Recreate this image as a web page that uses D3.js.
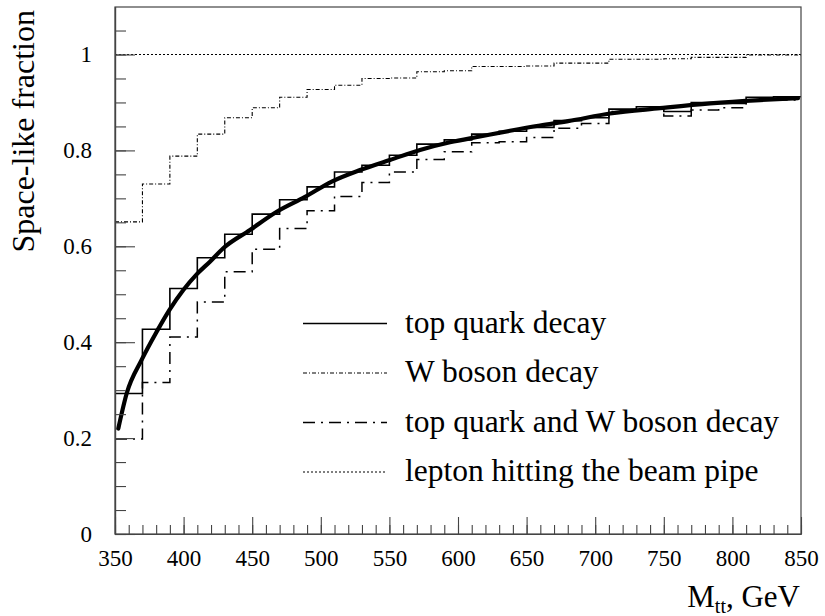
<!DOCTYPE html>
<html>
<head>
<meta charset="utf-8">
<title>Space-like fraction vs M_tt</title>
<script src="https://cdn.jsdelivr.net/npm/d3@7"></script>
<style>
  body { margin: 0; background: #fff; }
  text { font-family: "Liberation Serif", "DejaVu Serif", "Times New Roman", serif; fill: #000; }
</style>
</head>
<body>
<svg id="chart" width="825" height="616"></svg>
<script>
// low edge of each 20 GeV bin
const binLow = [350, 370, 390, 410, 430, 450, 470, 490, 510, 530, 550, 570, 590,
                610, 630, 650, 670, 690, 710, 730, 750, 770, 790, 810, 830];
const binHigh = 850;

// space-like fraction per bin
const topQuark = [0.293, 0.427, 0.512, 0.576, 0.625, 0.667, 0.697, 0.724, 0.755, 0.769, 0.790, 0.813, 0.822,
                  0.834, 0.840, 0.848, 0.862, 0.868, 0.886, 0.891, 0.881, 0.900, 0.898, 0.911, 0.912];
const wBoson   = [0.651, 0.730, 0.788, 0.834, 0.868, 0.889, 0.911, 0.927, 0.936, 0.950, 0.951, 0.964, 0.966,
                  0.975, 0.975, 0.976, 0.982, 0.982, 0.990, 0.990, 0.991, 0.994, 0.994, 0.999, 0.999];
const topAndW  = [0.198, 0.316, 0.411, 0.484, 0.547, 0.594, 0.637, 0.674, 0.704, 0.733, 0.755, 0.781, 0.797,
                  0.816, 0.818, 0.827, 0.846, 0.856, 0.881, 0.887, 0.872, 0.884, 0.889, 0.905, 0.905];
const beamPipe = [1, 1, 1, 1, 1, 1, 1, 1, 1, 1, 1, 1, 1,
                  1, 1, 1, 1, 1, 1, 1, 1, 1, 1, 1, 1];

// smooth fit drawn over the top quark histogram
const fitM = [352.4, 358.5, 369.4, 380.4, 389.6, 399.8, 409.5, 419.2, 428.9, 448.4, 467.9, 488.5, 508,
              528.6, 550.4, 572.3, 594.2, 616, 637.9, 659.8, 680.2, 710.8, 747.2, 783.7, 820.1, 847.8];
const fitY = [0.220, 0.293, 0.363, 0.422, 0.467, 0.509, 0.5415, 0.568, 0.596, 0.634, 0.672, 0.703, 0.735,
              0.759, 0.780, 0.801, 0.817, 0.829, 0.841, 0.852, 0.861, 0.877, 0.888, 0.898, 0.905, 0.909];

const xMajor = [350, 400, 450, 500, 550, 600, 650, 700, 750, 800, 850];
const yMajor = [0, 0.2, 0.4, 0.6, 0.8, 1];

const legendLabels = ["top quark decay", "W boson decay", "top quark and W boson decay", "lepton hitting the beam pipe"];

const svg = d3.select("#chart");
const frameL = 115, frameR = 801, frameT = 7, frameB = 534;

const x = d3.scaleLinear().domain([350, 850]).range([frameL, frameR]);
const y = d3.scaleLinear().domain([0, 1.1]).range([frameB, frameB - 1.1 * 479.5]);

svg.append("clipPath").attr("id", "plotclip")
  .append("rect").attr("x", frameL).attr("y", frameT).attr("width", frameR - frameL).attr("height", frameB - frameT);

// styles for the four series
const styles = [
  { dash: null,         width: 1.6 },
  { dash: "4,2,1,2",    width: 1.1 },
  { dash: "12,6,2,6",   width: 1.5 },
  { dash: "2,2",        width: 1.2 }
];

// histogram as a step line
function histPoints(vals) {
  const pts = binLow.map((b, i) => [b, vals[i]]);
  pts.push([binHigh, vals[vals.length - 1]]);
  return pts;
}
const step = d3.line().x(d => x(d[0])).y(d => y(d[1])).curve(d3.curveStepAfter);

const plot = svg.append("g").attr("clip-path", "url(#plotclip)");

[topQuark, wBoson, topAndW, beamPipe].forEach((vals, i) => {
  plot.append("path")
    .attr("d", step(histPoints(vals)))
    .attr("fill", "none")
    .attr("stroke", "#000")
    .attr("stroke-width", styles[i].width)
    .attr("stroke-dasharray", styles[i].dash);
});

// fit curve
const fitLine = d3.line().x((d, i) => x(fitM[i])).y((d, i) => y(fitY[i])).curve(d3.curveMonotoneX);
plot.append("path")
  .attr("d", fitLine(fitM))
  .attr("fill", "none")
  .attr("stroke", "#000")
  .attr("stroke-width", 4.2)
  .attr("stroke-linecap", "round");

// frame
svg.append("rect")
  .attr("x", frameL).attr("y", frameT)
  .attr("width", frameR - frameL).attr("height", frameB - frameT)
  .attr("fill", "none").attr("stroke", "#444").attr("stroke-width", 1.2);

// axes, ticks pointing inside the frame
svg.append("g").attr("transform", `translate(0,${frameB})`)
  .call(d3.axisBottom(x).tickValues(xMajor).tickSize(-17).tickSizeOuter(0).tickPadding(16));
svg.append("g").attr("transform", `translate(0,${frameB})`)
  .call(d3.axisBottom(x).tickValues(d3.range(350, 851, 10)).tickSize(-9).tickSizeOuter(0).tickFormat(""));

svg.append("g").attr("transform", `translate(${frameL},0)`)
  .call(d3.axisLeft(y).tickValues(yMajor).tickSize(-20).tickSizeOuter(0).tickPadding(23)
    .tickFormat(d => d3.format("")(d)));
svg.append("g").attr("transform", `translate(${frameL},0)`)
  .call(d3.axisLeft(y).tickValues(d3.range(0, 1.1, 0.05)).tickSize(-11).tickSizeOuter(0).tickFormat(""));

svg.selectAll(".domain").attr("stroke", "#444").attr("stroke-width", 1.2);
svg.selectAll(".tick line").attr("stroke", "#444").attr("stroke-width", 1.1);
svg.selectAll(".tick text").style("font-family", '"Liberation Serif", "DejaVu Serif", serif').style("font-size", "23px");

// axis titles
svg.append("text")
  .attr("transform", "translate(34,10) rotate(-90)")
  .attr("text-anchor", "end")
  .style("font-size", "32px")
  .text("Space-like fraction");

const xt = svg.append("text")
  .attr("x", 800).attr("y", 607)
  .attr("text-anchor", "end")
  .style("font-size", "31px");
xt.append("tspan").text("M");
xt.append("tspan").attr("dy", 6).style("font-size", "20px").text("tt");
xt.append("tspan").attr("dy", -6).text(", GeV");

// legend
const legend = svg.append("g");
legendLabels.forEach((lab, i) => {
  const ly = 323.5 + i * 49.5;
  legend.append("line")
    .attr("x1", 303).attr("x2", 387).attr("y1", ly).attr("y2", ly)
    .attr("stroke", "#000")
    .attr("stroke-width", styles[i].width)
    .attr("stroke-dasharray", styles[i].dash);
  legend.append("text")
    .attr("x", 405).attr("y", ly + 9)
    .style("font-size", "31.5px")
    .text(lab);
});
</script>
</body>
</html>
